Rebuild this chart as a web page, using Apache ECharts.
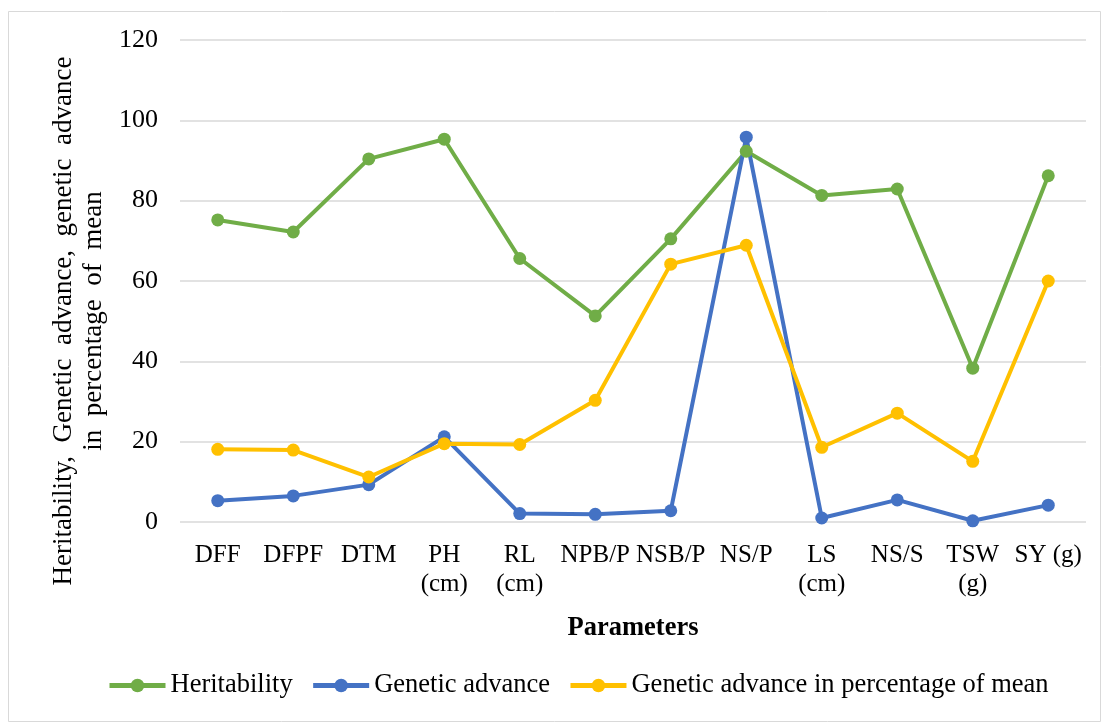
<!DOCTYPE html>
<html>
<head>
<meta charset="utf-8">
<script src="https://cdn.jsdelivr.net/npm/echarts@6/dist/echarts.min.js"></script>
<style>
  html, body { margin: 0; padding: 0; background: #ffffff; }
  #chart { width: 1102px; height: 724px; }
</style>
</head>
<body>
<div id="chart"></div>
<script>
// Trait names (two-line labels where the unit sits under the name)
const categories = ['DFF', 'DFPF', 'DTM', 'PH\n(cm)', 'RL\n(cm)', 'NPB/P', 'NSB/P', 'NS/P', 'LS\n(cm)', 'NS/S', 'TSW\n(g)', 'SY (g)'];

// Genetic parameters per trait
const heritability = [75.2, 72.2, 90.4, 95.3, 65.6, 51.3, 70.5, 92.3, 81.3, 82.9, 38.3, 86.2];
const geneticAdvance = [5.3, 6.5, 9.3, 21.2, 2.1, 1.9, 2.8, 95.8, 1.0, 5.5, 0.3, 4.2];
const gaPercentMean = [18.1, 17.9, 11.2, 19.5, 19.3, 30.3, 64.2, 68.9, 18.6, 27.1, 15.1, 60.0];

const yTicks = { min: 0, max: 120, interval: 20 };

const yTitle = 'Heritability,  Genetic  advance,  genetic  advance\nin  percentage  of  mean';

const FONT = '"Liberation Serif", "Times New Roman", serif';
const FS = 25;

const chart = echarts.init(document.getElementById('chart'), null, { renderer: 'canvas' });

function lineSeries(name, data, color) {
  return {
    name: name,
    type: 'line',
    data: data,
    symbol: 'circle',
    symbolSize: 13,
    lineStyle: { color: color, width: 4 },
    itemStyle: { color: color },
    z: 3
  };
}

chart.setOption({
  animation: false,
  backgroundColor: '#ffffff',
  textStyle: { fontFamily: FONT },
  graphic: [
    {
      type: 'rect',
      shape: { x: 8.5, y: 11.5, width: 1092, height: 710 },
      style: { fill: 'none', stroke: '#d9d9d9', lineWidth: 1 },
      silent: true
    },
    {
      // vertical value-axis title
      type: 'text',
      x: 79,
      y: 321,
      rotation: Math.PI / 2,
      silent: true,
      style: {
        text: yTitle,
        fontFamily: FONT,
        fontSize: 27,
        lineHeight: 30,
        align: 'center',
        verticalAlign: 'middle',
        fill: '#000000'
      }
    }
  ],
  grid: { left: 180, right: 16, top: 40, bottom: 202, containLabel: false },
  legend: {
    bottom: 20,
    left: 102,
    itemWidth: 56,
    itemHeight: 17,
    itemGap: 18,
    lineStyle: { width: 5 },
    textStyle: { fontFamily: FONT, fontSize: 26.5, color: '#000000' },
    data: ['Heritability', 'Genetic advance', 'Genetic advance in percentage of mean']
  },
  xAxis: {
    type: 'category',
    data: categories,
    boundaryGap: true,
    name: 'Parameters',
    nameLocation: 'middle',
    nameGap: 93,
    nameTextStyle: { fontFamily: FONT, fontSize: 26.5, fontWeight: 'bold', color: '#000000' },
    axisLine: { show: false },
    axisTick: { show: false },
    axisLabel: {
      interval: 0,
      fontFamily: FONT,
      fontSize: FS,
      color: '#000000',
      margin: 19,
      lineHeight: 29
    }
  },
  yAxis: {
    type: 'value',
    min: yTicks.min,
    max: yTicks.max,
    interval: yTicks.interval,
    axisLine: { show: false },
    axisTick: { show: false },
    axisLabel: { fontFamily: FONT, fontSize: 26, color: '#000000', margin: 22 },
    splitLine: { show: true, lineStyle: { color: '#d9d9d9', width: 1.5 } }
  },
  series: [
    lineSeries('Heritability', heritability, '#70ad47'),
    lineSeries('Genetic advance', geneticAdvance, '#4472c4'),
    lineSeries('Genetic advance in percentage of mean', gaPercentMean, '#ffc000')
  ]
});
</script>
</body>
</html>
